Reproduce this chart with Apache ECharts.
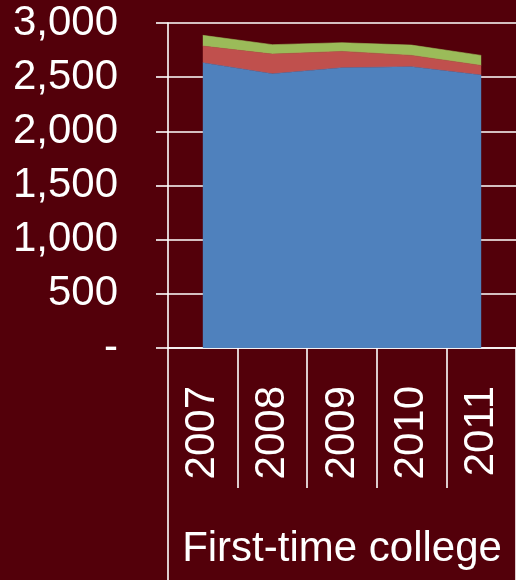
<!DOCTYPE html>
<html>
<head>
<meta charset="utf-8">
<script src="https://cdn.jsdelivr.net/npm/echarts@6/dist/echarts.min.js"></script>
<style>
  html, body { margin: 0; padding: 0; background: #53000A; }
  #chart { width: 516px; height: 580px; }
</style>
</head>
<body>
<div id="chart"></div>
<script>
// Enrolment by year, stacked in three groups
const years = ['2007', '2008', '2009', '2010', '2011'];
const groupLabel = ['First-time college'];
const seriesA = [2633, 2531, 2587, 2596, 2519];
const seriesB = [154, 182, 151, 105, 89];
const seriesC = [99, 87, 80, 95, 93];
const yTicks = { min: 0, max: 3000, step: 500 };

const FONT = '"Liberation Sans", Arial, sans-serif';
const WHITE = '#ffffff';

function yLabel(v) {
  if (v === 0) return '-';
  return String(v).replace(/\B(?=(\d{3})+(?!\d))/g, ',');
}

function areaSeries(name, data, color) {
  return {
    name: name,
    type: 'line',
    stack: 'total',
    data: data,
    showSymbol: false,
    symbol: 'none',
    lineStyle: { width: 0.6, color: color },
    areaStyle: { color: color, opacity: 1 },
    itemStyle: { color: color },
    emphasis: { disabled: true },
    silent: true
  };
}

const chart = echarts.init(document.getElementById('chart'), null, { renderer: 'canvas' });
chart.setOption({
  backgroundColor: '#53000A',
  animation: false,
  textStyle: { fontFamily: FONT },
  grid: { left: 168, top: 23, right: -2, bottom: 232, containLabel: false },
  xAxis: [
    {
      type: 'category',
      data: years,
      boundaryGap: true,
      position: 'bottom',
      axisLine: { show: true, lineStyle: { color: WHITE, width: 1.6 } },
      axisTick: { show: true, interval: 0, length: 140, lineStyle: { color: WHITE, width: 1.6 } },
      axisLabel: {
        interval: 0, rotate: 90, margin: 38,
        color: WHITE, fontSize: 42, fontFamily: FONT
      },
      splitLine: { show: false }
    },
    {
      type: 'category',
      data: groupLabel,
      boundaryGap: true,
      position: 'bottom',
      offset: 140,
      axisLine: { show: false },
      axisTick: { show: true, interval: 0, length: 92, lineStyle: { color: WHITE, width: 1.6 } },
      axisLabel: {
        interval: 0, margin: 40,
        color: WHITE, fontSize: 42, fontFamily: FONT
      },
      splitLine: { show: false }
    }
  ],
  yAxis: {
    type: 'value',
    min: yTicks.min,
    max: yTicks.max,
    interval: yTicks.step,
    axisLine: { show: true, lineStyle: { color: WHITE, width: 1.6 } },
    axisTick: { show: true, length: 12, lineStyle: { color: WHITE, width: 1.6 } },
    axisLabel: {
      margin: 50,
      color: WHITE, fontSize: 42, fontFamily: FONT,
      formatter: yLabel
    },
    splitLine: { show: true, lineStyle: { color: WHITE, width: 1.6 } }
  },
  series: [
    areaSeries('A', seriesA, '#4F81BD'),
    areaSeries('B', seriesB, '#C0504D'),
    areaSeries('C', seriesC, '#9BBB59')
  ]
});
</script>
</body>
</html>
